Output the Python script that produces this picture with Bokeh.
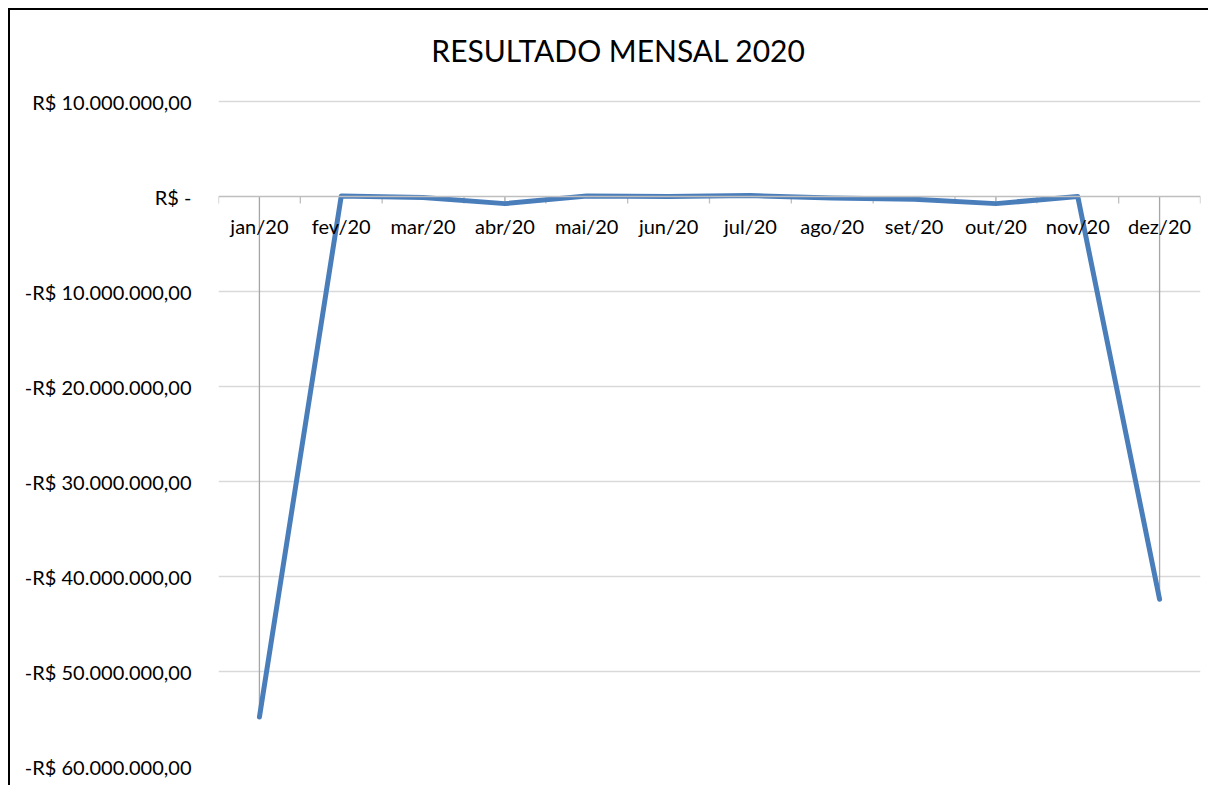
from bokeh.plotting import figure
from bokeh.models import FactorRange, Range1d, FixedTicker, Span
from bokeh.core.properties import value
from bokeh.embed import file_html
from bokeh.resources import INLINE

# ---- data ----
months = ["jan/20", "fev/20", "mar/20", "abr/20", "mai/20", "jun/20",
          "jul/20", "ago/20", "set/20", "out/20", "nov/20", "dez/20"]
resultado = [-54800000, 50000, -100000, -750000, 50000, 0,
             100000, -150000, -300000, -750000, 0, -42400000]
y_ticks = [10000000, 0, -10000000, -20000000, -30000000, -40000000,
           -50000000, -60000000]
y_tick_labels = ["R$ 10.000.000,00", "R$ -", "-R$ 10.000.000,00",
                 "-R$ 20.000.000,00", "-R$ 30.000.000,00", "-R$ 40.000.000,00",
                 "-R$ 50.000.000,00", "-R$ 60.000.000,00"]
title_text = "RESULTADO MENSAL 2020"

FONT = "Lato"
y_min = -60000000
px_per_10m = 95.0
frame_h = 756
y_max = y_min + frame_h / px_per_10m * 10000000

p = figure(width=1200, height=777,
           x_range=FactorRange(factors=months),
           y_range=Range1d(y_min, y_max),
           output_backend="svg", toolbar_location=None,
           min_border_left=208, min_border_right=10,
           min_border_top=0, min_border_bottom=21)
p.styles = {"margin-left": "8px", "margin-top": "8px",
            "border-left": "2px solid #000000", "border-top": "2px solid #000000"}
p.background_fill_color = "white"
p.border_fill_color = "white"
p.outline_line_color = None

# axes
p.xaxis.visible = False
p.xgrid.visible = False
ax = p.yaxis[0]
ax.ticker = FixedTicker(ticks=y_ticks)
ax.major_label_overrides = {t: l for t, l in zip(y_ticks, y_tick_labels)}
ax.axis_line_color = None
ax.major_tick_line_color = None
ax.minor_tick_line_color = None
ax.major_tick_out = 0
ax.major_tick_in = 0
ax.major_label_standoff = 27
ax.major_label_text_font = FONT
ax.major_label_text_font_size = "20px"
ax.major_label_text_color = "#000000"

p.ygrid.ticker = FixedTicker(ticks=[t for t in y_ticks if t != 0])
p.ygrid.grid_line_color = "#d9d9d9"
p.ygrid.grid_line_width = 1.3

# category axis crossing at zero
p.add_layout(Span(location=0, dimension="width", line_color="#bfbfbf", line_width=1.3))
tick_len = 7 / px_per_10m * 10000000
bounds = list(range(len(months) + 1))
p.segment(x0=bounds, x1=bounds, y0=[0] * len(bounds), y1=[-tick_len] * len(bounds),
          line_color="#bfbfbf", line_width=1.3)

# drop lines
p.segment(x0=months, x1=months, y0=[0] * len(months), y1=resultado,
          line_color="#a6a6a6", line_width=1.3)

# series
p.line(x=months, y=resultado, line_color="#4a7ebb", line_width=5,
       line_join="round", line_cap="round")

# category labels
p.text(x=months, y=[0] * len(months), text=months, y_offset=29,
       text_align="center", text_baseline="middle",
       text_font=value(FONT), text_font_size="20px", text_color="#000000")

# title
p.text(x=[4.889], y=[15370000], text=[title_text],
       text_align="center", text_baseline="middle",
       text_font=value(FONT), text_font_size="30px", text_color="#000000")

open("out.html", "w").write(file_html(p, INLINE))
